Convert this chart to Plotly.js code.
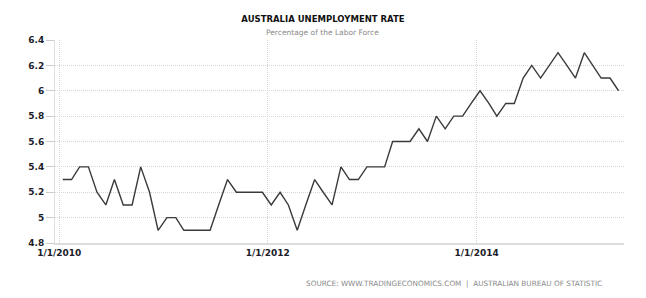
<!DOCTYPE html>
<html>
<head>
<meta charset="utf-8">
<script src="https://cdn.plot.ly/plotly-3.0.1.min.js"></script>
<style>
  html, body { margin: 0; padding: 0; background: #fff; }
  #chart { width: 646px; height: 298px; }
</style>
</head>
<body>
<div id="chart"></div>
<script>
// Monthly observations (month labels)
const months = [
  '2010-01','2010-02','2010-03','2010-04','2010-05','2010-06','2010-07','2010-08','2010-09','2010-10','2010-11','2010-12',
  '2011-01','2011-02','2011-03','2011-04','2011-05','2011-06','2011-07','2011-08','2011-09','2011-10','2011-11','2011-12',
  '2012-01','2012-02','2012-03','2012-04','2012-05','2012-06','2012-07','2012-08','2012-09','2012-10','2012-11','2012-12',
  '2013-01','2013-02','2013-03','2013-04','2013-05','2013-06','2013-07','2013-08','2013-09','2013-10','2013-11','2013-12',
  '2014-01','2014-02','2014-03','2014-04','2014-05','2014-06','2014-07','2014-08','2014-09','2014-10','2014-11','2014-12',
  '2015-01','2015-02','2015-03','2015-04','2015-05'
];
// Unemployment rate, percent of labour force
const unemploymentRate = [
  5.3,5.3,5.4,5.4,5.2,5.1,5.3,5.1,5.1,5.4,5.2,4.9,
  5.0,5.0,4.9,4.9,4.9,4.9,5.1,5.3,5.2,5.2,5.2,5.2,
  5.1,5.2,5.1,4.9,5.1,5.3,5.2,5.1,5.4,5.3,5.3,5.4,
  5.4,5.4,5.6,5.6,5.6,5.7,5.6,5.8,5.7,5.8,5.8,5.9,
  6.0,5.9,5.8,5.9,5.9,6.1,6.2,6.1,6.2,6.3,6.2,6.1,
  6.3,6.2,6.1,6.1,6.0
];
const xTickVals = ['2010-01-01','2012-01-01','2014-01-01'];
const xTickText = ['1/1/2010','1/1/2012','1/1/2014'];
const yTickVals = [4.8,5,5.2,5.4,5.6,5.8,6,6.2,6.4];

const titleText = 'AUSTRALIA UNEMPLOYMENT RATE';
const subtitleText = 'Percentage of the Labor Force';
const sourceText = 'SOURCE: WWW.TRADINGECONOMICS.COM &nbsp;|&nbsp; AUSTRALIAN BUREAU OF STATISTIC';

const trace = {
  x: months.map(m => m + '-13'),
  y: unemploymentRate,
  type: 'scatter',
  mode: 'lines',
  line: { color: '#3a3a3a', width: 1.4 },
  hoverinfo: 'x+y'
};

const labelFont = { family: 'DejaVu Sans, Verdana, sans-serif', size: 9, color: '#1c1c2a', weight: 'bold' };

const layout = {
  width: 646,
  height: 298,
  margin: { l: 55, r: 22, t: 40, b: 55 },
  paper_bgcolor: '#ffffff',
  plot_bgcolor: '#ffffff',
  showlegend: false,
  title: {
    text: '<b>' + titleText + '</b>',
    font: { family: 'DejaVu Sans, Verdana, sans-serif', size: 8.5, color: '#111111' },
    xref: 'container', x: 0.5, xanchor: 'center',
    yref: 'container', y: 1 - 19 / 298, yanchor: 'middle'
  },
  xaxis: {
    type: 'date',
    range: ['2009-12-17', '2015-06-01'],
    tickmode: 'array',
    tickvals: xTickVals,
    ticktext: xTickText,
    showgrid: true,
    gridcolor: '#d6d6d6',
    griddash: '1px,1px',
    gridwidth: 1,
    showline: true,
    linecolor: '#dddddd',
    linewidth: 2,
    ticks: '',
    tickfont: labelFont,
    zeroline: false,
    fixedrange: true
  },
  yaxis: {
    range: [4.8, 6.4],
    tickmode: 'array',
    tickvals: yTickVals,
    showgrid: true,
    gridcolor: '#d6d6d6',
    griddash: '1px,1px',
    gridwidth: 1,
    showline: true,
    linecolor: '#e0e0e0',
    linewidth: 1,
    ticks: 'outside',
    ticklen: 8,
    tickcolor: '#cccccc',
    tickwidth: 1,
    tickfont: labelFont,
    zeroline: false,
    fixedrange: true
  },
  annotations: [
    {
      text: subtitleText,
      xref: 'paper', yref: 'paper',
      x: (322 - 55) / 569, y: 1 + 7 / 203,
      xanchor: 'center', yanchor: 'middle',
      showarrow: false,
      font: { family: 'DejaVu Sans, Verdana, sans-serif', size: 7.5, color: '#8a8a8a' }
    },
    {
      text: sourceText,
      xref: 'paper', yref: 'paper',
      x: (604 - 55) / 569, y: -40 / 203,
      xanchor: 'right', yanchor: 'middle',
      showarrow: false,
      font: { family: 'DejaVu Sans, Verdana, sans-serif', size: 7.3, color: '#8a8a8a' }
    }
  ]
};

Plotly.newPlot('chart', [trace], layout, { displayModeBar: false, staticPlot: true });
</script>
</body>
</html>
